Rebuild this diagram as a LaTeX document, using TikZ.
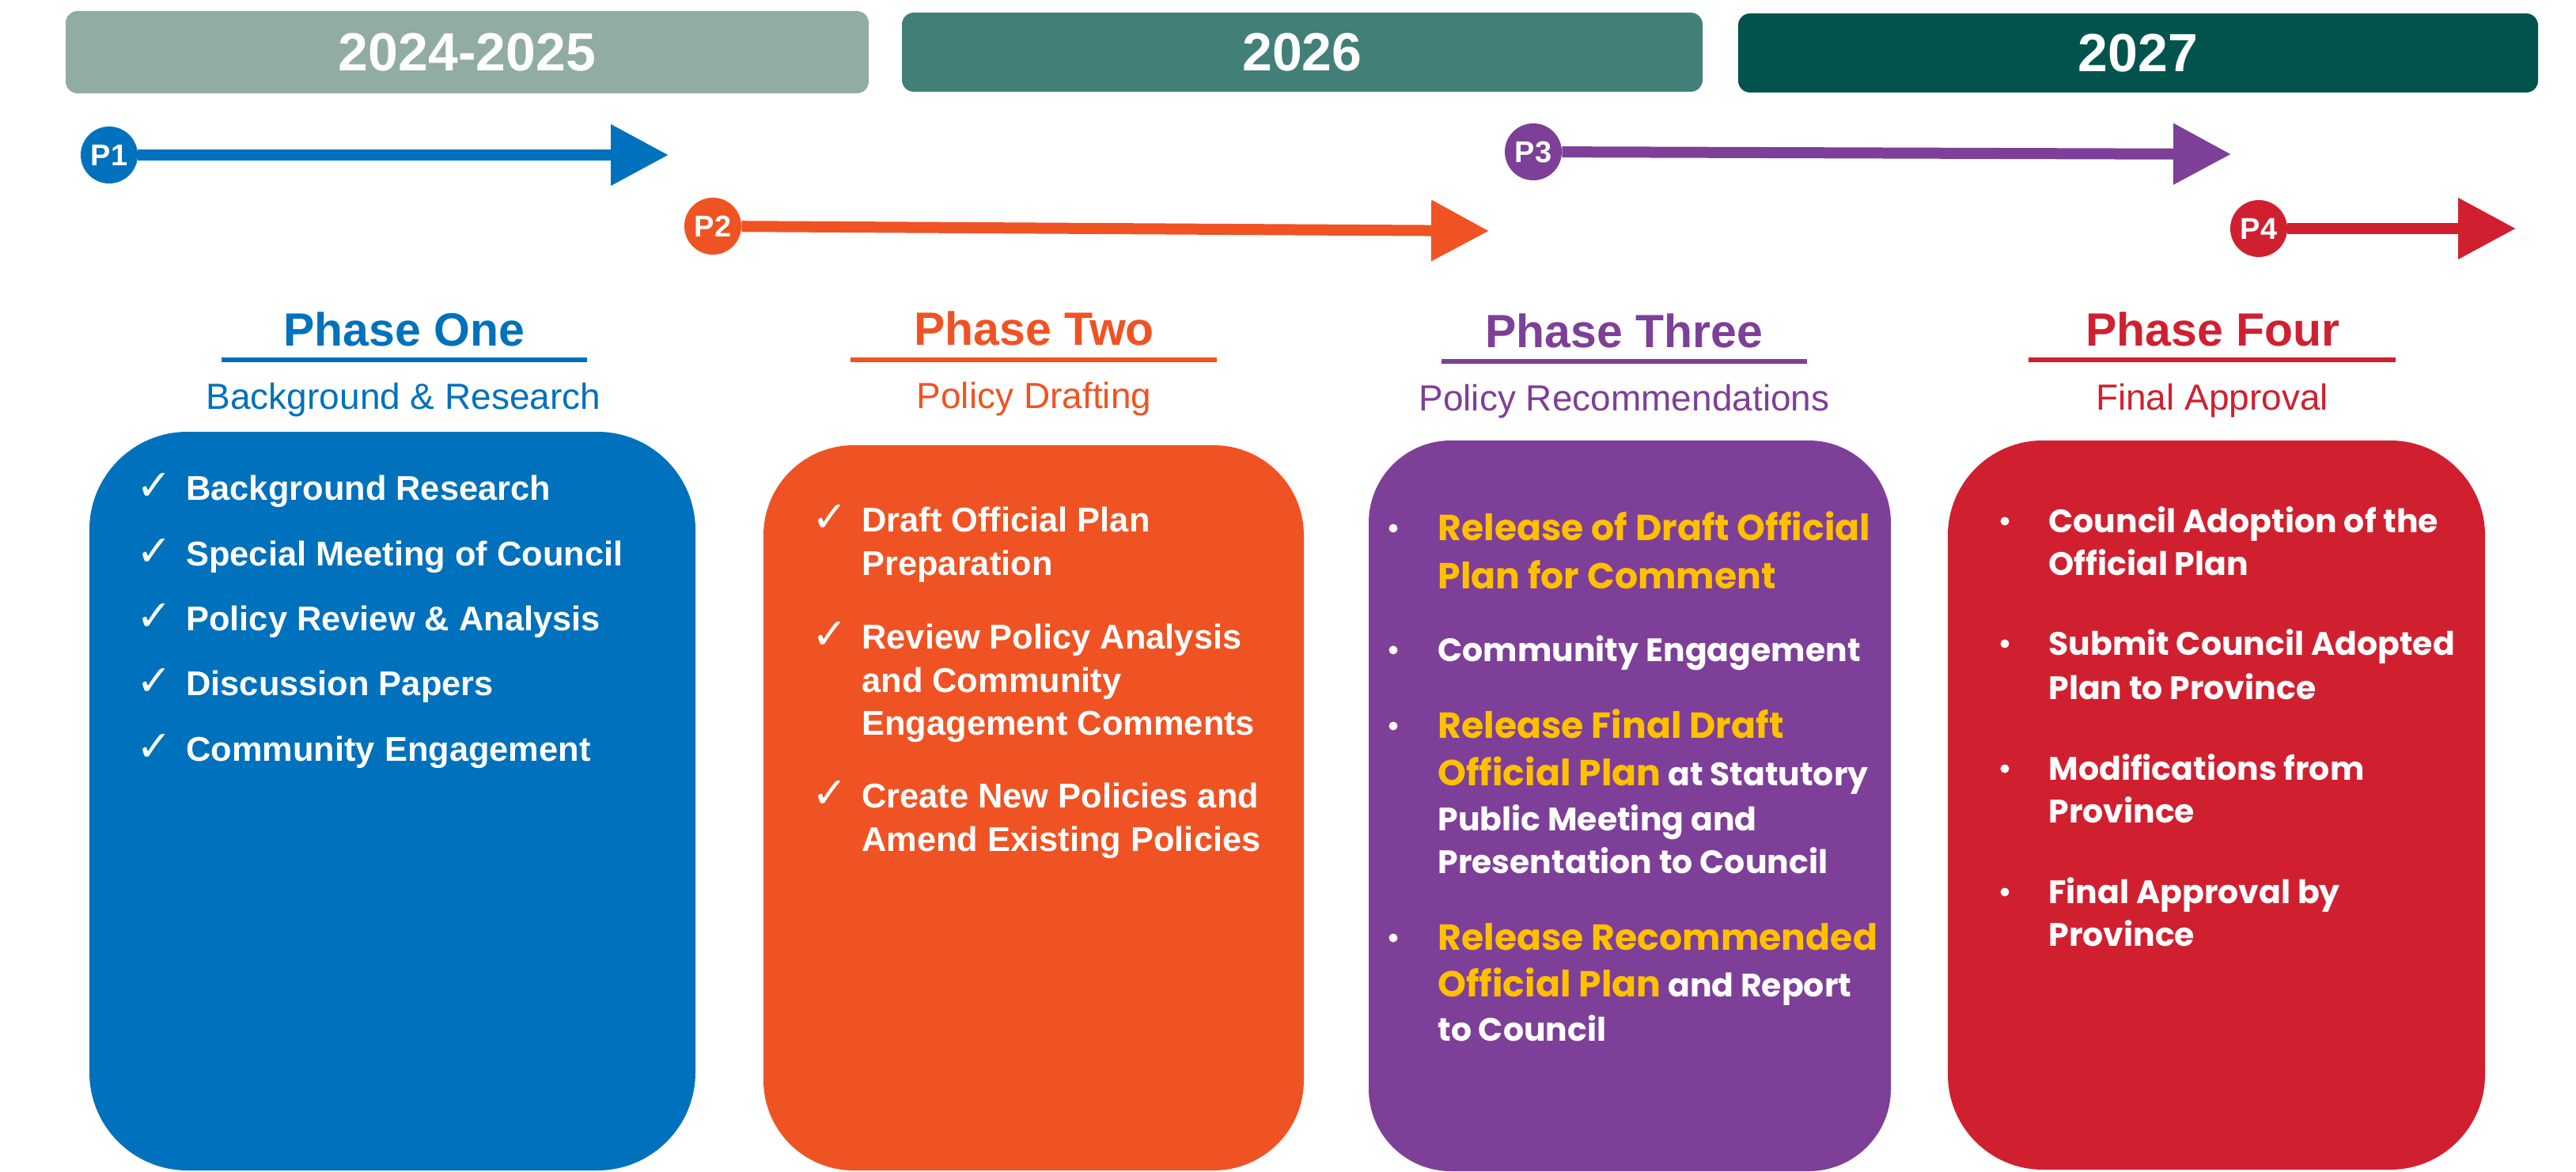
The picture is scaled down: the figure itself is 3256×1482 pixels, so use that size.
\documentclass[tikz,border=0pt]{standalone}
\usepackage{fontspec}
\setmainfont{Liberation Sans}
\newfontfamily\popp{Poppins}
\newfontfamily\dvs{DejaVu Sans}
\usetikzlibrary{arrows.meta}
\definecolor{cblue}{HTML}{0071BC}
\definecolor{corange}{HTML}{F05323}
\definecolor{cpurple}{HTML}{7E3F98}
\definecolor{cred}{HTML}{D02030}
\definecolor{yA}{HTML}{91ABA5}
\definecolor{yB}{HTML}{427F79}
\definecolor{yC}{HTML}{02534D}
\definecolor{cyel}{HTML}{FFC000}
\newcommand\yelw[1]{{\color{cyel}\fontsize{22.9}{27}\selectfont #1}}
\begin{document}
\begin{tikzpicture}[x=0.5pt,y=-0.5pt,
 yearbar/.style={rounded corners=7.5pt},
 yeartxt/.style={anchor=base, text=white, inner sep=0pt, font=\fontsize{34}{40}\selectfont\bfseries},
 pcirc/.style={circle, minimum size=36pt, inner sep=0pt, text=white, font=\fontsize{19}{22}\selectfont\bfseries},
 parrow/.style={line width=7pt, -{Triangle[length=36.5pt,width=37pt]}},
 ptitle/.style={anchor=base, inner sep=0pt, font=\fontsize{29.5}{34}\selectfont\bfseries},
 psub/.style={anchor=base, inner sep=0pt, font=\fontsize{23}{27}\selectfont},
 uline/.style={line width=3pt},
 bodyA/.style={anchor=base west, inner sep=0pt, text=white, font=\fontsize{21.7}{25}\selectfont\bfseries},
 bodyP/.style={anchor=base west, inner sep=0pt, text=white, font=\popp\fontsize{20.5}{25}\selectfont\bfseries},
 bodyY/.style={bodyP, text=cyel, font=\popp\fontsize{22.9}{27}\selectfont\bfseries},
 chk/.style={anchor=base west, inner sep=0pt, text=white, font=\dvs\fontsize{27}{30}\selectfont},
 bdot/.style={circle, fill=white, minimum size=5.5pt, inner sep=0pt},
]
\useasboundingbox (0,0) rectangle (3256,1482);

% year bars
\fill[yA, yearbar] (83,14) rectangle (1098,118);
\fill[yB, yearbar] (1140,16) rectangle (2152,116);
\fill[yC, yearbar] (2197,17) rectangle (3208,117);
\node[yeartxt] (yr1) at (590.5,90) {2024-2025};
\node[yeartxt] (yr2) at (1646,90) {2026};
\node[yeartxt] (yr3) at (2702.5,91) {2027};

% phase arrows
\node[pcirc, fill=cblue] (p1) at (138,196) {P1};
\node[pcirc, fill=corange] (p2) at (901,286) {P2};
\node[pcirc, fill=cpurple] (p3) at (1938,192) {P3};
\node[pcirc, fill=cred] (p4) at (2855,289) {P4};
\coordinate (p1tip) at (845,196);
\coordinate (p2tip) at (1882,292);
\coordinate (p3tip) at (2820,195);
\coordinate (p4tip) at (3180,289);
\draw[parrow, cblue] (p1) -- (p1tip);
\draw[parrow, corange] (p2) -- (p2tip);
\draw[parrow, cpurple] (p3) -- (p3tip);
\draw[parrow, cred] (p4) -- (p4tip);

% titles
\node[ptitle, text=cblue] (h1) at (511,437) {Phase One};
\node[ptitle, text=corange] (h2) at (1307,436) {Phase Two};
\node[ptitle, text=cpurple] (h3) at (2053,439) {Phase Three};
\node[ptitle, text=cred] (h4) at (2797,437) {Phase Four};
\draw[uline, cblue] (280,455) -- (742,455);
\draw[uline, corange] (1075,455) -- (1538,455);
\draw[uline, cpurple] (1822,457) -- (2284,457);
\draw[uline, cred] (2564,455) -- (3028,455);
\node[psub, text=cblue] (s1) at (510,517) {Background \& Research};
\node[psub, text=corange] (s2) at (1307,516) {Policy Drafting};
\node[psub, text=cpurple] (s3) at (2053,519) {Policy Recommendations};
\node[psub, text=cred] (s4) at (2796,518) {Final Approval};

% boxes
\fill[cblue, rounded corners=62pt] (113,546) rectangle (879,1480);
\fill[corange, rounded corners=57pt] (965,563) rectangle (1648,1480);
\fill[cpurple, rounded corners=52pt] (1730,557) rectangle (2390,1481);
\fill[cred, rounded corners=60pt] (2462,557) rectangle (3141,1479);

% phase one items
\node[chk] (c11) at (172,632) {✓};
\node[chk] (c12) at (172,715) {✓};
\node[chk] (c13) at (172,797) {✓};
\node[chk] (c14) at (172,879) {✓};
\node[chk] (c15) at (172,962) {✓};
\node[bodyA] (t11) at (235,632) {Background Research};
\node[bodyA] (t12) at (235,715) {Special Meeting of Council};
\node[bodyA] (t13) at (235,797) {Policy Review \& Analysis};
\node[bodyA] (t14) at (235,879) {Discussion Papers};
\node[bodyA] (t15) at (235,962) {Community Engagement};

% phase two items
\node[chk] (c21) at (1026,672) {✓};
\node[chk] (c22) at (1026,820) {✓};
\node[chk] (c23) at (1026,1021) {✓};
\node[bodyA] (t21a) at (1089,672) {Draft Official Plan};
\node[bodyA] (t21b) at (1089,727) {Preparation};
\node[bodyA] (t22a) at (1089,820) {Review Policy Analysis};
\node[bodyA] (t22b) at (1089,875) {and Community};
\node[bodyA] (t22c) at (1089,929) {Engagement Comments};
\node[bodyA] (t23a) at (1089,1021) {Create New Policies and};
\node[bodyA] (t23b) at (1089,1076) {Amend Existing Policies};

% phase three items
\node[bdot] (d31) at (1761,668) {};
\node[bdot] (d32) at (1761,822) {};
\node[bdot] (d33) at (1761,918) {};
\node[bdot] (d34) at (1761,1186) {};
\node[bodyY] (t31a) at (1817,683) {Release of Draft Official};
\node[bodyY] (t31b) at (1817,744) {Plan for Comment};
\node[bodyP] (t32a) at (1817,836) {Community Engagement};
\node[bodyY] (t33a) at (1817,933) {Release Final Draft};
\node[bodyP] (t33b) at (1817,993) {\yelw{Official Plan} at Statutory};
\node[bodyP] (t33c) at (1817,1050) {Public Meeting and};
\node[bodyP] (t33d) at (1817,1104) {Presentation to Council};
\node[bodyY] (t34a) at (1817,1201) {Release Recommended};
\node[bodyP] (t34b) at (1817,1260) {\yelw{Official Plan} and Report};
\node[bodyP] (t34c) at (1817,1316) {to Council};

% phase four items
\node[bdot] (d41) at (2534,659) {};
\node[bdot] (d42) at (2534,814) {};
\node[bdot] (d43) at (2534,972) {};
\node[bdot] (d44) at (2534,1128) {};
\node[bodyP] (t41a) at (2589,673) {Council Adoption of the};
\node[bodyP] (t41b) at (2589,727) {Official Plan};
\node[bodyP] (t42a) at (2589,828) {Submit Council Adopted};
\node[bodyP] (t42b) at (2589,884) {Plan to Province};
\node[bodyP] (t43a) at (2589,986) {Modifications from};
\node[bodyP] (t43b) at (2589,1040) {Province};
\node[bodyP] (t44a) at (2589,1142) {Final Approval by};
\node[bodyP] (t44b) at (2589,1196) {Province};
\end{tikzpicture}
\end{document}
